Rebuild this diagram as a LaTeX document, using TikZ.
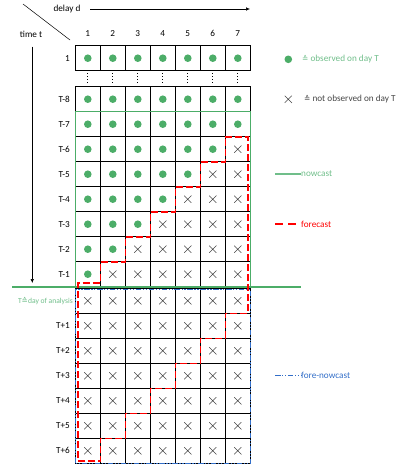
\documentclass[tikz,border=0pt]{standalone}
\usepackage{fontspec}
\setmainfont{Carlito}
\newfontfamily\symfont{DejaVu Sans}
\usetikzlibrary{arrows.meta,positioning,calc}
\definecolor{obsgreen}{RGB}{76,173,104}
\definecolor{textgreen}{RGB}{112,190,138}
\definecolor{fcred}{RGB}{255,0,0}
\definecolor{fnblue}{RGB}{50,110,200}
\definecolor{crossgray}{RGB}{70,70,70}
\newcommand{\corr}{{\symfont\fontsize{7.5}{8}\selectfont ≙}}
\newcommand{\obsdot}[2]{\fill[obsgreen] (#1,#2) circle (3.8);}
\newcommand{\nobs}[2]{\draw[crossgray, line width=0.55pt] ($(#1,#2)+(-3.6,-3.6)$) -- ++(7.2,7.2) ($(#1,#2)+(-3.6,3.6)$) -- ++(7.2,-7.2);}
\begin{document}
\begin{tikzpicture}[
    x=1pt, y=-1pt,
    lbl/.style={font=\fontsize{9.2}{10}\selectfont, inner sep=0pt},
    small/.style={font=\fontsize{7.6}{8}\selectfont, inner sep=0pt},
    cell/.style={draw=black, line width=0.75pt},
    nowline/.style={draw=obsgreen, line width=1.4pt},
    foreline/.style={draw=fcred, line width=1.6pt, dash pattern=on 7pt off 3pt},
    fnline/.style={draw=fnblue, line width=1.6pt, dash pattern=on 5.5pt off 1.6pt on 1.3pt off 1.6pt on 1.3pt off 1.6pt}
]
    \useasboundingbox (0,0) rectangle (419,466);

    % Axes
    \coordinate (diagA) at (23,4);
    \coordinate (diagB) at (70,40);
    \draw[line width=0.5pt] (diagA) -- (diagB);
    \node[lbl] (delay) at (67,9) {delay d};
    \node[lbl] (time) at (31,34) {time t};
    \coordinate (dstart) at (90,9);
    \coordinate (dend) at (250,9);
    \draw[line width=0.5pt, -{Latex[length=4pt,width=3.5pt]}] (dstart) -- (dend);
    \coordinate (tstart) at (32.3,46.7);
    \coordinate (tend) at (32.3,283);
    \draw[line width=0.5pt, -{Latex[length=4pt,width=3.5pt]}] (tstart) -- (tend);

    % Column numbers
    \foreach \d in {1,...,7}
        \node[lbl] (col\d) at ({62.8+25*\d},33.5) {\d};

    % Row 1 and T-8
    \node[lbl, anchor=east] (lab1) at (70,58.2) {1};
    \node[lbl, anchor=east] (lab8) at (70,99.2) {T-8};
    \foreach \d in {1,...,7} {
        \draw[cell] ({50.3+25*\d},45.7) rectangle ++(25,25);
        \draw[cell] ({50.3+25*\d},86.7) rectangle ++(25,25);
        \obsdot{62.8+25*\d}{58.2}
        \obsdot{62.8+25*\d}{99.2}
        \draw[line width=1pt, dotted] ({62.8+25*\d},73) -- ({62.8+25*\d},85);
    }

    % Rows T-7 ... T-1
    \foreach \r in {0,...,6} {
        \pgfmathsetmacro\k{int(7-\r)}
        \pgfmathsetmacro\yt{111.7+25*\r}
        \node[lbl, anchor=east] (labm\k) at (70,\yt+12.5) {T-\k};
        \foreach \d in {1,...,7} {
            \draw[cell] ({50.3+25*\d},\yt) rectangle ++(25,25);
            \ifnum\d>\k
                \nobs{62.8+25*\d}{\yt+12.5}
            \else
                \obsdot{62.8+25*\d}{\yt+12.5}
            \fi
        }
    }

    % Rows T ... T+6
    \node[small, anchor=east, text=textgreen] (labT) at (73,301.5) {T\corr day of analysis};
    \foreach \r in {0,...,6} {
        \pgfmathsetmacro\yt{288.3+25*\r}
        \ifnum\r>0
            \node[lbl, anchor=east] (labp\r) at (70,\yt+12.5) {T+\r};
        \fi
        \foreach \d in {1,...,7} {
            \draw[cell] ({50.3+25*\d},\yt) rectangle ++(25,25);
            \nobs{62.8+25*\d}{\yt+12.5}
        }
    }

    % Nowcast
    \draw[nowline] (75.3,111.7) rectangle (250.3,286.7);
    \coordinate (tline) at (12,287);
    \coordinate (tlineend) at (300.7,287);
    \draw[nowline, line width=1.6pt] (tline) -- (tlineend);

    % Fore-nowcast
    \draw[fnline] (75.3,289.3) rectangle (250.3,463.3);

    % Forecast
    \draw[foreline] (225.3,136.7) -- (248,136.7) -- (248,313.3) -- (225.3,313.3)
        -- (225.3,338.3) -- (200.3,338.3) -- (200.3,363.3) -- (175.3,363.3)
        -- (175.3,388.3) -- (150.3,388.3) -- (150.3,413.3) -- (125.3,413.3)
        -- (125.3,438.3) -- (100.3,438.3) -- (100.3,461) -- (77.8,461)
        -- (77.8,283) -- (100.3,283) -- (100.3,261.7) -- (125.3,261.7)
        -- (125.3,236.7) -- (150.3,236.7) -- (150.3,211.7) -- (175.3,211.7)
        -- (175.3,186.7) -- (200.3,186.7) -- (200.3,161.7) -- (225.3,161.7) -- cycle;

    % Legend
    \obsdot{288.3}{59.3}
    \node[lbl, anchor=west, text=textgreen] (legobs) at (302,59.3) {\corr\ observed on day T};
    \nobs{288.3}{99.3}
    \node[lbl, anchor=west, text=crossgray] (legnobs) at (304,99.3) {\corr\ not observed on day T};
    \node[lbl, anchor=west, text=textgreen] (legnow) at (301,174) {nowcast};
    \coordinate (lnow) at (275,174);
    \draw[draw=textgreen, line width=1.1pt] (lnow) -- (legnow.west);
    \node[lbl, anchor=west, text=fcred] (legfore) at (301,224) {forecast};
    \coordinate (lfore) at (275,224);
    \draw[foreline, dash pattern=on 8pt off 5pt on 8pt] (lfore) -- (legfore.west);
    \node[lbl, anchor=west, text=fnblue] (legfn) at (301,375.5) {fore-nowcast};
    \coordinate (lfn) at (275,375.5);
    \draw[fnline] (lfn) -- (legfn.west);
\end{tikzpicture}
\end{document}
